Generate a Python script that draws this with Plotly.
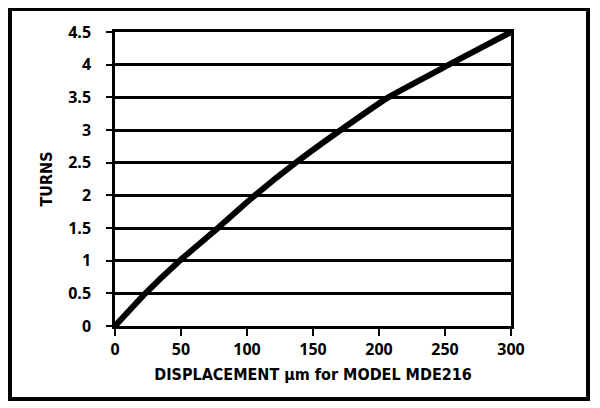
import plotly.graph_objects as go

displacement_um = [0, 23, 49, 78, 106, 137, 171, 207, 253, 300]
turns = [0, 0.5, 1.0, 1.5, 2.0, 2.5, 3.0, 3.5, 4.0, 4.5]

x_ticks = [0, 50, 100, 150, 200, 250, 300]
y_ticks = [0, 0.5, 1, 1.5, 2, 2.5, 3, 3.5, 4, 4.5]
y_tick_labels = ["0", "0.5", "1", "1.5", "2", "2.5", "3", "3.5", "4", "4.5"]

# page body has an 8px default margin, so the figure is shrunk by 8px
OFF = 8
L, R, T, B = 115 - OFF, 89, 32 - OFF, 82
W, H = 600 - OFF, 408 - OFF
PW, PH = W - L - R, H - T - B

fig = go.Figure()
fig.add_trace(go.Scatter(
    x=displacement_um, y=turns, mode="lines",
    line=dict(color="black", width=6, shape="spline", smoothing=0.4),
    showlegend=False, hoverinfo="skip",
))

tick_font = dict(family="Open Sans, Liberation Sans, sans-serif", size=16, color="black", weight=700)
title_font = dict(family="DejaVu Sans Condensed, Liberation Sans, sans-serif", size=16, color="black", weight=900)

def px_x(p):
    return (p - 115) / PW

def px_y(p):
    return (326 - p) / PH

fig.update_layout(
    width=W, height=H,
    margin=dict(l=L, r=R, t=T, b=B),
    paper_bgcolor="white", plot_bgcolor="white",
    xaxis=dict(
        range=[0, 300], tickvals=x_ticks, ticktext=[str(v) for v in x_ticks],
        showgrid=False, zeroline=False,
        showline=True, linecolor="black", linewidth=2.5, mirror=True,
        ticks="outside", ticklen=7, tickwidth=2, tickcolor="black",
        tickfont=tick_font,
        title=dict(text="DISPLACEMENT µm for MODEL MDE216", font=title_font, standoff=10),
    ),
    yaxis=dict(
        range=[0, 4.5], tickvals=y_ticks, ticktext=y_tick_labels,
        showgrid=True, gridcolor="black", gridwidth=2.5, zeroline=False,
        showline=True, linecolor="black", linewidth=2.5, mirror=True,
        ticks="outside", ticklen=6, tickwidth=2, tickcolor="black",
        ticklabelstandoff=12,
        tickfont=tick_font,
        title=dict(text="TURNS", font=title_font, standoff=12),
    ),
    shapes=[dict(
        type="rect", xref="paper", yref="paper",
        x0=px_x(10), x1=px_x(588),
        y0=px_y(399), y1=px_y(9),
        line=dict(color="black", width=4), fillcolor="rgba(0,0,0,0)", layer="above",
    )],
)

fig.write_html("out.html")
